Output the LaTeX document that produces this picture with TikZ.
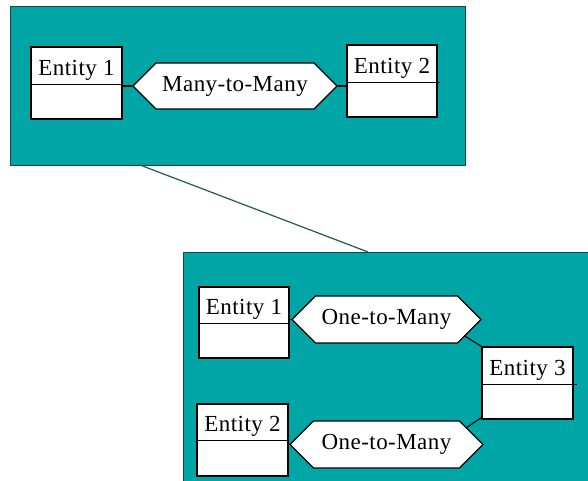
\documentclass[tikz,border=0pt]{standalone}
\usepackage{fontspec}
\setmainfont{Liberation Serif}[LetterSpace=2]
\usetikzlibrary{shapes.symbols,calc}
\definecolor{panelfill}{RGB}{0,165,165}
\definecolor{paneledge}{RGB}{20,70,70}
\definecolor{linkcol}{RGB}{30,90,90}
\tikzset{
  panel/.style={draw=paneledge, line width=1pt, fill=panelfill},
  entbox/.style={draw=black, line width=1.1pt, fill=white, inner sep=0pt},
  enttext/.style={font=\fontsize{23}{25}\selectfont, inner sep=0pt, anchor=base},
  rel/.style={signal, signal to=west and east, signal pointer angle=90, draw=black,
    line width=1.1pt, fill=white, inner sep=0pt, font=\fontsize{23}{25}\selectfont},
  conn/.style={draw=black, line width=1.1pt},
  link/.style={draw=linkcol, line width=1.2pt}
}
\begin{document}
\begin{tikzpicture}[x=1pt,y=-1pt]
\clip (0,0) rectangle (588,481);
\fill[white] (0,0) rectangle (588,481);
% panels
\node[panel, minimum width=455pt, minimum height=158pt, inner sep=0pt] (ptop) at (237.5,86) {};
\node[panel, minimum width=410pt, minimum height=235pt, inner sep=0pt, anchor=north west] (pbot) at (183,252) {};
\coordinate (c1) at (140,165);
\coordinate (c2) at (368,252);
\draw[link] (c1) -- (c2);
% top panel
\node[entbox, minimum width=91pt, minimum height=72pt] (te1) at (76.5,83) {};
\draw[conn] ([yshift=-38pt]te1.north west) -- ([yshift=-38pt]te1.north east);
\node[enttext] at ([yshift=-29pt]te1.north) {Entity 1};
\node[entbox, minimum width=90pt, minimum height=72pt] (te2) at (392,81) {};
\draw[conn] ([yshift=-38pt]te2.north west) -- ([yshift=-38pt,xshift=2pt]te2.north east);
\node[enttext] at ([yshift=-29pt]te2.north) {Entity 2};
\node[rel, minimum width=204pt, minimum height=46pt] (rm) at (235,86) {Many-to-Many};
\draw[conn] (rm.west) -- (rm.west -| te1.east);
\draw[conn] (rm.east) -- (rm.east -| te2.west);
% bottom panel
\node[entbox, minimum width=90pt, minimum height=71pt] (be1) at (244,322.5) {};
\draw[conn] ([yshift=-37pt]be1.north west) -- ([yshift=-37pt]be1.north east);
\node[enttext] at ([yshift=-28pt]be1.north) {Entity 1};
\node[entbox, minimum width=91pt, minimum height=72pt] (be2) at (242.5,440) {};
\draw[conn] ([yshift=-37pt]be2.north west) -- ([yshift=-37pt]be2.north east);
\node[enttext] at ([yshift=-28pt]be2.north) {Entity 2};
\node[entbox, minimum width=91pt, minimum height=72pt] (be3) at (527.5,383) {};
\draw[conn] ([yshift=-38pt]be3.north west) -- ([yshift=-38pt,xshift=3pt]be3.north east);
\node[enttext] at ([yshift=-29pt]be3.north) {Entity 3};
\node[rel, minimum width=189pt, minimum height=47pt] (r1) at (386.5,319.5) {One-to-Many};
\node[rel, minimum width=193pt, minimum height=47pt] (r2) at (386.5,444.5) {One-to-Many};
\draw[conn] (r1.west) -- (r1.west -| be1.east);
\draw[conn] (r2.west) -- (r2.west -| be2.east);
\draw[conn] (r1.-12) -- (be3.north west);
\draw[conn] (r2.12) -- ([yshift=2pt]be3.south west);
\end{tikzpicture}
\end{document}
